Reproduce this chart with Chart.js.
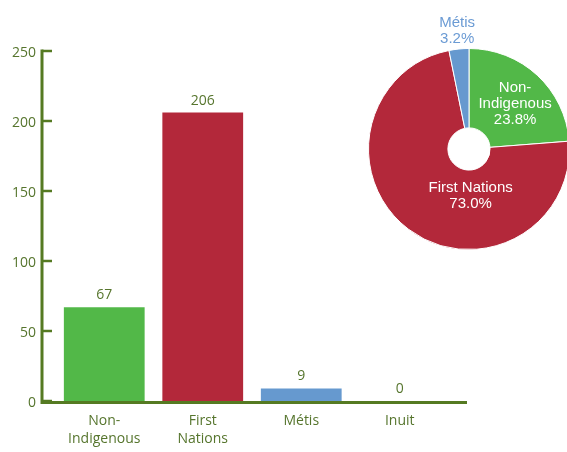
<!DOCTYPE html>
<html>
<head>
<meta charset="utf-8">
<script src="https://cdn.jsdelivr.net/npm/chart.js@4"></script>
<style>
    html, body { margin: 0; padding: 0; background: #fff; overflow: hidden; }
    #wrap { position: relative; width: 567px; height: 452px; }
    #barChart { position: absolute; left: 0; top: 0; }
    #pieChart { position: absolute; left: 329px; top: 9px; }
</style>
</head>
<body>
<div id="wrap">
    <canvas id="barChart" width="567" height="452"></canvas>
    <canvas id="pieChart" width="280" height="280"></canvas>
</div>
<script>
const categories = [['Non-', 'Indigenous'], ['First', 'Nations'], 'Métis', 'Inuit'];
const counts = [67, 206, 9, 0];
const yTicks = [0, 50, 100, 150, 200, 250];

const pieLabels = [['Non-', 'Indigenous'], ['First Nations'], ['Métis']];
const pieValues = [67, 206, 9];

const green = '#52b848';
const red = '#b3283a';
const blue = '#6699cf';
const axisColor = '#557a22';
const textColor = '#56752d';
const font = '"Open Sans", "Noto Sans", sans-serif';

// axis lines with inward ticks, drawn from the scales
const axisPlugin = {
    id: 'axisLines',
    afterDraw(c) {
        const ctx = c.ctx;
        const y = c.scales.y;
        const zero = y.getPixelForValue(0);
        const top = y.getPixelForValue(250);
        const axisX = 42;
        ctx.save();
        ctx.strokeStyle = axisColor;
        ctx.lineCap = 'butt';
        ctx.lineWidth = 2.5;
        yTicks.forEach(v => {
            const py = y.getPixelForValue(v);
            ctx.beginPath();
            ctx.moveTo(axisX, py);
            ctx.lineTo(axisX + 10, py);
            ctx.stroke();
        });
        ctx.lineWidth = 3;
        ctx.beginPath();
        ctx.moveTo(axisX, top - 1.5);
        ctx.lineTo(axisX, zero + 1.5);
        ctx.lineTo(467, zero + 1.5);
        ctx.stroke();
        ctx.restore();
    }
};

const barValuePlugin = {
    id: 'barValues',
    afterDatasetsDraw(c) {
        const ctx = c.ctx;
        const meta = c.getDatasetMeta(0);
        ctx.save();
        ctx.font = '14px ' + font;
        ctx.fillStyle = textColor;
        ctx.textAlign = 'center';
        ctx.textBaseline = 'bottom';
        meta.data.forEach((bar, i) => {
            ctx.fillText(String(counts[i]), bar.x, bar.y - 5);
        });
        ctx.restore();
    }
};

new Chart(document.getElementById('barChart'), {
    type: 'bar',
    data: {
        labels: categories,
        datasets: [{
            data: counts,
            backgroundColor: [green, red, blue, blue],
            barPercentage: 0.82,
            categoryPercentage: 1
        }]
    },
    options: {
        responsive: false,
        animation: false,
        layout: { padding: { top: 51, right: 118, left: 0, bottom: 0 } },
        plugins: { legend: { display: false }, tooltip: { enabled: false } },
        scales: {
            x: {
                grid: { display: false, drawTicks: false },
                border: { display: false },
                afterFit: s => { s.height = 51; },
                ticks: { color: textColor, font: { family: font, size: 14, lineHeight: 1.3 }, padding: 11, maxRotation: 0 }
            },
            y: {
                min: 0,
                max: 250,
                afterFit: s => { s.width = 55; },
                afterBuildTicks: s => { s.ticks = yTicks.map(v => ({ value: v })); },
                grid: { display: false, drawTicks: false },
                border: { display: false },
                ticks: { color: textColor, font: { family: font, size: 14 }, padding: 19, labelOffset: 2 }
            }
        }
    },
    plugins: [axisPlugin, barValuePlugin]
});

// label placement: angle offset (deg) from slice middle and radius fraction
const pieLabelPlace = [
    { dAngle: 3, r: 0.64, color: '#fff' },
    { dAngle: -39, r: 0.47, color: '#fff' },
    { dAngle: 0, r: 1.18, color: '#6b9bd4' }
];

const pieLabelPlugin = {
    id: 'pieLabels',
    afterDatasetsDraw(c) {
        const ctx = c.ctx;
        const meta = c.getDatasetMeta(0);
        const total = pieValues.reduce((a, b) => a + b, 0);
        ctx.save();
        ctx.font = '15px "Liberation Sans", Arial, sans-serif';
        ctx.textAlign = 'center';
        ctx.textBaseline = 'middle';
        meta.data.forEach((arc, i) => {
            const p = pieLabelPlace[i];
            const mid = (arc.startAngle + arc.endAngle) / 2 + p.dAngle * Math.PI / 180;
            const cx = arc.x + Math.cos(mid) * arc.outerRadius * p.r;
            const cy = arc.y + Math.sin(mid) * arc.outerRadius * p.r;
            const lines = pieLabels[i].concat([(pieValues[i] / total * 100).toFixed(1) + '%']);
            const lh = 16;
            const y0 = cy - (lines.length - 1) * lh / 2;
            ctx.fillStyle = p.color;
            lines.forEach((t, k) => ctx.fillText(t, cx, y0 + k * lh));
        });
        ctx.restore();
    }
};

new Chart(document.getElementById('pieChart'), {
    type: 'doughnut',
    data: {
        labels: pieLabels.map(l => l.join(' ')),
        datasets: [{
            data: pieValues,
            backgroundColor: [green, red, blue],
            borderColor: '#fff',
            borderWidth: 1
        }]
    },
    options: {
        responsive: false,
        animation: false,
        cutout: '21%',
        layout: { padding: 39 },
        plugins: { legend: { display: false }, tooltip: { enabled: false } }
    },
    plugins: [pieLabelPlugin]
});
</script>
</body>
</html>
